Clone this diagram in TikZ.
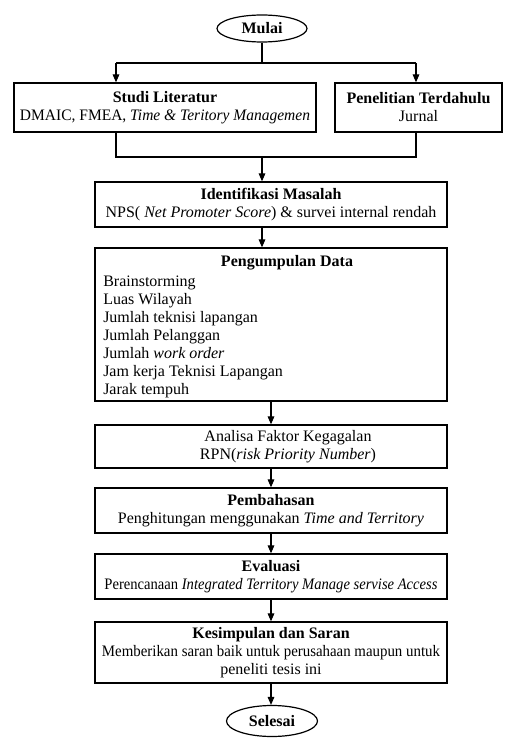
\documentclass[tikz,border=0pt]{standalone}
\usepackage{fontspec}
\setmainfont{Liberation Serif}
\usetikzlibrary{arrows.meta,shapes.geometric}
\newcommand{\squeezeto}[2]{\resizebox{#1}{\height}{#2}}
\begin{document}
\begin{tikzpicture}[x=0.75pt,y=-0.75pt,
  every node/.style={font=\fontsize{12}{13.5}\selectfont, inner sep=0pt},
  box/.style={draw, line width=1pt, rectangle, minimum width=264pt, align=center},
  term/.style={draw, line width=0.9pt, ellipse, align=center},
  line/.style={line width=0.8pt},
  arr/.style={line width=0.8pt, -{Triangle[length=6pt,width=5pt]}}]
\useasboundingbox (0,0) rectangle (507,738);

\node[term, minimum width=67.5pt, minimum height=20.25pt] (mulai) at (262,28.5) {\textbf{Mulai}};

\node[box, minimum width=226.5pt, minimum height=36.75pt] (studi) at (165,107.5)
  {\textbf{Studi Literatur}\\\squeezeto{217.5pt}{DMAIC, FMEA, \textit{Time \& Teritory Managemen}}};
\node[box, minimum width=125.25pt, minimum height=36.75pt] (pen) at (418.5,107.5)
  {\textbf{Penelitian Terdahulu}\\Jurnal};

\node[box, minimum height=33.75pt] (ident) at (271,204.5)
  {\textbf{Identifikasi Masalah}\\NPS( \textit{Net Promoter Score}) \& survei internal rendah};

\node[box, minimum height=114.75pt] (data) at (271,324.5) {};
\node (datat) at (287,263) {\textbf{Pengumpulan Data}};
\node[anchor=north west, align=left, font=\fontsize{12}{13.5}\selectfont] (datal) at (103,275.5)
  {Brainstorming\\Luas Wilayah\\Jumlah teknisi lapangan\\Jumlah Pelanggan\\Jumlah \textit{work order}\\Jam kerja Teknisi Lapangan\\Jarak tempuh};

\node[box, minimum height=32.25pt] (anal) at (271,446.5) {};
\node[align=center] (analt) at (288,446.5) {Analisa Faktor Kegagalan\\RPN(\textit{risk Priority Number})};

\node[box, minimum height=33.75pt] (bahas) at (271,510.5)
  {\textbf{Pembahasan}\\Penghitungan menggunakan \textit{Time and Territory}};

\node[box, minimum height=33.75pt] (eval) at (271,576.5)
  {\textbf{Evaluasi}\\\squeezeto{249.75pt}{Perencanaan \textit{Integrated Territory Manage servise Access}}};

\node[box, minimum height=45.75pt] (kes) at (271,652.5)
  {\textbf{Kesimpulan dan Saran}\\\squeezeto{253.5pt}{Memberikan saran baik untuk perusahaan maupun untuk}\\peneliti tesis ini};

\node[term, minimum width=68.25pt, minimum height=23.25pt] (sel) at (272,721) {\textbf{Selesai}};

% connectors
\coordinate (split) at (262,63);
\coordinate (sl) at (116,63);
\coordinate (sr) at (416,63);
\coordinate (jl) at (116,157);
\coordinate (jr) at (416,157);
\coordinate (jm) at (262,157);
\draw[line] (mulai.south) -- (split);
\draw[line] (sl) -- (sr);
\draw[arr] (sl) -- (sl |- studi.north);
\draw[arr] (sr) -- (sr |- pen.north);
\draw[line] (sl |- studi.south) -- (jl) -- (jr) -- (sr |- pen.south);
\draw[arr] (jm) -- (jm |- ident.north);
\draw[arr] (jm |- ident.south) -- (jm |- data.north);
\coordinate (c2) at (271,0);
\draw[arr] (c2 |- data.south) -- (c2 |- anal.north);
\draw[arr] (c2 |- anal.south) -- (c2 |- bahas.north);
\draw[arr] (c2 |- bahas.south) -- (c2 |- eval.north);
\draw[arr] (c2 |- eval.south) -- (c2 |- kes.north);
\draw[arr] (c2 |- kes.south) -- (c2 |- sel.north);
\end{tikzpicture}
\end{document}
